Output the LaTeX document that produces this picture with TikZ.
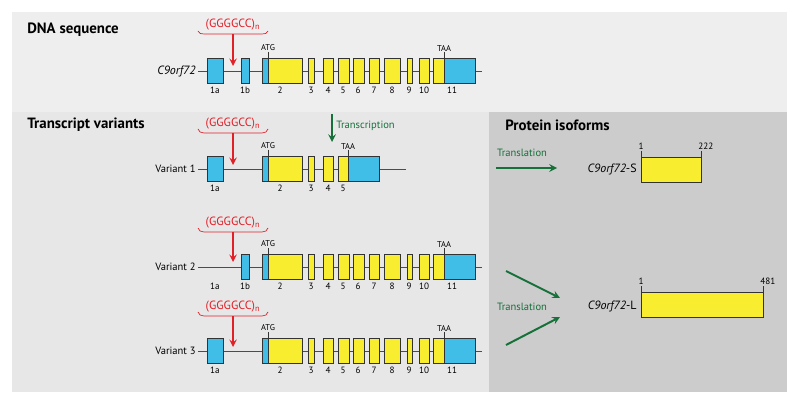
\documentclass[tikz,border=0pt]{standalone}
\usepackage{amsmath,amssymb}
\usepackage{fontspec}
\setmainfont{PT Sans}
\usepackage{tikz}
\usetikzlibrary{arrows}
\usetikzlibrary{calc}

\definecolor{exonblue}{RGB}{64,190,232}
\definecolor{exonyellow}{RGB}{248,237,46}
\definecolor{repeatred}{RGB}{226,32,40}
\definecolor{transgreen}{RGB}{22,112,58}
\definecolor{paneltop}{RGB}{239,238,239}
\definecolor{panelleft}{RGB}{231,231,231}
\definecolor{panelright}{RGB}{204,204,204}

\begin{document}
\begin{tikzpicture}[x=0.025cm, y=-0.025cm,
    exon/.style={draw=black!80, line width=0.6pt},
    intron/.style={draw=black!70, line width=0.6pt},
    num/.style={font=\fontsize{6.5}{7}\selectfont, inner sep=0pt},
    site/.style={font=\fontsize{6}{7}\selectfont, inner sep=0.5pt, anchor=south},
    rowlabel/.style={font=\fontsize{7.5}{9}\selectfont, anchor=east, inner xsep=1.5pt, inner ysep=0pt},
    genelabel/.style={font=\fontsize{8.5}{10}\selectfont, anchor=east, inner xsep=1.5pt, inner ysep=0pt},
    title/.style={font=\bfseries\fontsize{10.6}{12}\selectfont, anchor=west, inner sep=0pt},
    rep/.style={font=\fontsize{8.5}{10}\selectfont, text=repeatred, inner sep=0pt},
    brace/.style={draw=repeatred, line width=0.5pt},
    reparrow/.style={-stealth, draw=repeatred, line width=1.3pt},
    gtext/.style={font=\fontsize{7.5}{9}\selectfont, text=transgreen, inner sep=0pt},
    garrow/.style={-stealth, draw=transgreen, line width=1.4pt}]

    \useasboundingbox (0,0) rectangle (800,405);
    \fill[paneltop] (12,12) rectangle (787,112);
    \fill[panelleft] (12,112) rectangle (489,392);
    \fill[panelright] (489,112) rectangle (787,392);

    \node[title] (dnatitle) at (27,30) {DNA sequence};
    \node[title] (vartitle) at (27,125) {Transcript variants};
    \node[title] (prottitle) at (505,125) {Protein isoforms};

    \begin{scope}[shift={(0,71)}]
        \node[genelabel] (dna) at (198,0) {\itshape C9orf72};
        \coordinate (dnaend) at (482,0);
        \draw[intron] (dna) -- (dnaend);
        \foreach \a/\b in {207/223, 241/249, 262/268, 444/475}
            \filldraw[exon, fill=exonblue] (\a,-12.5) rectangle (\b,12.5);
        \foreach \a/\b in {268/302, 308/314, 323/333, 338/349, 353/364, 369/379, 384/400, 407/412, 419/429, 433/444}
            \filldraw[exon, fill=exonyellow] (\a,-12.5) rectangle (\b,12.5);
        \foreach \x/\t in {215/1a, 245/1b, 280/2, 311/3, 328/4, 343/5, 358/6, 374/7, 392/8, 409/9, 424/10, 452/11}
            \node[num] (dna-\t) at (\x,19) {\t};
        \coordinate (dnaatg) at (268,-12.5);
        \coordinate (dnataa) at (444,-12.5);
        \node[site] (dnaATG) at (268,-19) {ATG};
        \node[site] (dnaTAA) at (444,-19) {TAA};
        \draw[exon] (dnaATG) -- (dnaatg);
        \draw[exon] (dnaTAA) -- (dnataa);
        \draw[brace] (198,-40) to[out=-80,in=180] (204,-37) -- (262,-37) to[out=0,in=-100] (268,-40);
        \coordinate (dnarep) at (233,-37);
        \coordinate (dnatip) at (233,-5);
        \draw[reparrow] (dnarep) -- (dnatip);
        \node[rep] (dnagc) at (233,-46) {(GGGGCC)\textsubscript{n}};
    \end{scope}

    \begin{scope}[shift={(0,169)}]
        \node[rowlabel] (var1) at (198,0) {Variant 1};
        \coordinate (var1end) at (406,0);
        \draw[intron] (var1) -- (var1end);
        \foreach \a/\b in {207/223, 262/268, 348/379}
            \filldraw[exon, fill=exonblue] (\a,-12.5) rectangle (\b,12.5);
        \foreach \a/\b in {268/302, 308/314, 323/333, 338/348}
            \filldraw[exon, fill=exonyellow] (\a,-12.5) rectangle (\b,12.5);
        \foreach \x/\t in {215/1a, 280/2, 311/3, 328/4, 343/5}
            \node[num] (var1-\t) at (\x,19) {\t};
        \coordinate (var1atg) at (268,-12.5);
        \coordinate (var1taa) at (348,-12.5);
        \node[site] (var1ATG) at (268,-19) {ATG};
        \node[site] (var1TAA) at (348,-19) {TAA};
        \draw[exon] (var1ATG) -- (var1atg);
        \draw[exon] (var1TAA) -- (var1taa);
        \draw[brace] (198,-40) to[out=-80,in=180] (204,-36) -- (262,-36) to[out=0,in=-100] (268,-40);
        \coordinate (var1rep) at (233,-36);
        \coordinate (var1tip) at (233,-4);
        \draw[reparrow] (var1rep) -- (var1tip);
        \node[rep] (var1gc) at (233,-45) {(GGGGCC)\textsubscript{n}};
    \end{scope}

    \coordinate (tcstart) at (332,114);
    \coordinate (tcend) at (332,142);
    \draw[garrow] (tcstart) -- (tcend);
    \node[gtext, anchor=west] (tc) at (336,126) {Transcription};

    \begin{scope}[shift={(0,267)}]
        \node[rowlabel] (var2) at (198,0) {Variant 2};
        \coordinate (var2end) at (482,0);
        \draw[intron] (var2) -- (var2end);
        \foreach \a/\b in {241/249, 262/268, 444/475}
            \filldraw[exon, fill=exonblue] (\a,-12.5) rectangle (\b,12.5);
        \foreach \a/\b in {268/302, 308/314, 323/333, 338/349, 353/364, 369/379, 384/400, 407/412, 419/429, 433/444}
            \filldraw[exon, fill=exonyellow] (\a,-12.5) rectangle (\b,12.5);
        \foreach \x/\t in {215/1a, 245/1b, 280/2, 311/3, 328/4, 343/5, 358/6, 374/7, 392/8, 409/9, 424/10, 452/11}
            \node[num] (var2-\t) at (\x,19) {\t};
        \coordinate (var2atg) at (268,-12.5);
        \coordinate (var2taa) at (444,-12.5);
        \node[site] (var2ATG) at (268,-19) {ATG};
        \node[site] (var2TAA) at (444,-19) {TAA};
        \draw[exon] (var2ATG) -- (var2atg);
        \draw[exon] (var2TAA) -- (var2taa);
        \draw[brace] (198,-39) to[out=-80,in=180] (204,-35) -- (262,-35) to[out=0,in=-100] (268,-39);
        \coordinate (var2rep) at (233,-35);
        \coordinate (var2tip) at (233,-5);
        \draw[reparrow] (var2rep) -- (var2tip);
        \node[rep] (var2gc) at (233,-44) {(GGGGCC)\textsubscript{n}};
    \end{scope}

    \begin{scope}[shift={(0,351)}]
        \node[rowlabel] (var3) at (198,0) {Variant 3};
        \coordinate (var3end) at (482,0);
        \draw[intron] (var3) -- (var3end);
        \foreach \a/\b in {207/223, 262/268, 444/475}
            \filldraw[exon, fill=exonblue] (\a,-12.5) rectangle (\b,12.5);
        \foreach \a/\b in {268/302, 308/314, 323/333, 338/349, 353/364, 369/379, 384/400, 407/412, 419/429, 433/444}
            \filldraw[exon, fill=exonyellow] (\a,-12.5) rectangle (\b,12.5);
        \foreach \x/\t in {215/1a, 280/2, 311/3, 328/4, 343/5, 358/6, 374/7, 392/8, 409/9, 424/10, 452/11}
            \node[num] (var3-\t) at (\x,19) {\t};
        \coordinate (var3atg) at (268,-12.5);
        \coordinate (var3taa) at (444,-12.5);
        \node[site] (var3ATG) at (268,-19) {ATG};
        \node[site] (var3TAA) at (444,-19) {TAA};
        \draw[exon] (var3ATG) -- (var3atg);
        \draw[exon] (var3TAA) -- (var3taa);
        \draw[brace] (198,-39) to[out=-80,in=180] (204,-35) -- (262,-35) to[out=0,in=-100] (268,-39);
        \coordinate (var3rep) at (233,-35);
        \coordinate (var3tip) at (233,-4);
        \draw[reparrow] (var3rep) -- (var3tip);
        \node[rep] (var3gc) at (233,-44) {(GGGGCC)\textsubscript{n}};
    \end{scope}

    \node[gtext] (trS) at (522,153) {Translation};
    \coordinate (trSa) at (496,168);
    \coordinate (trSb) at (557,168);
    \draw[garrow] (trSa) -- (trSb);
    \node[genelabel] (protS) at (639,169) {{\itshape C9orf72}-S};
    \filldraw[exon, fill=exonyellow] (641,157) rectangle (701,182);
    \coordinate (protSa) at (641,157);
    \coordinate (protSb) at (701,157);
    \coordinate (protSa') at (641,151);
    \coordinate (protSb') at (701,151);
    \draw[exon] (protSa) -- (protSa');
    \draw[exon] (protSb) -- (protSb');
    \node[num, anchor=south] (protS1) at (641,150) {1};
    \node[num, anchor=south west] (protS222) at (698,150) {222};

    \node[gtext] (trL) at (522,307) {Translation};
    \coordinate (trLa) at (506,271);
    \coordinate (trLb) at (560,298);
    \coordinate (trLc) at (506,345);
    \coordinate (trLd) at (560,317);
    \draw[garrow] (trLa) -- (trLb);
    \draw[garrow] (trLc) -- (trLd);
    \node[genelabel] (protL) at (639,306) {{\itshape C9orf72}-L};
    \filldraw[exon, fill=exonyellow] (641,292) rectangle (763,317);
    \coordinate (protLa) at (641,292);
    \coordinate (protLb) at (763,292);
    \coordinate (protLa') at (641,286);
    \coordinate (protLb') at (763,286);
    \draw[exon] (protLa) -- (protLa');
    \draw[exon] (protLb) -- (protLb');
    \node[num, anchor=south] (protL1) at (641,285) {1};
    \node[num, anchor=south west] (protL481) at (760,285) {481};
\end{tikzpicture}
\end{document}
